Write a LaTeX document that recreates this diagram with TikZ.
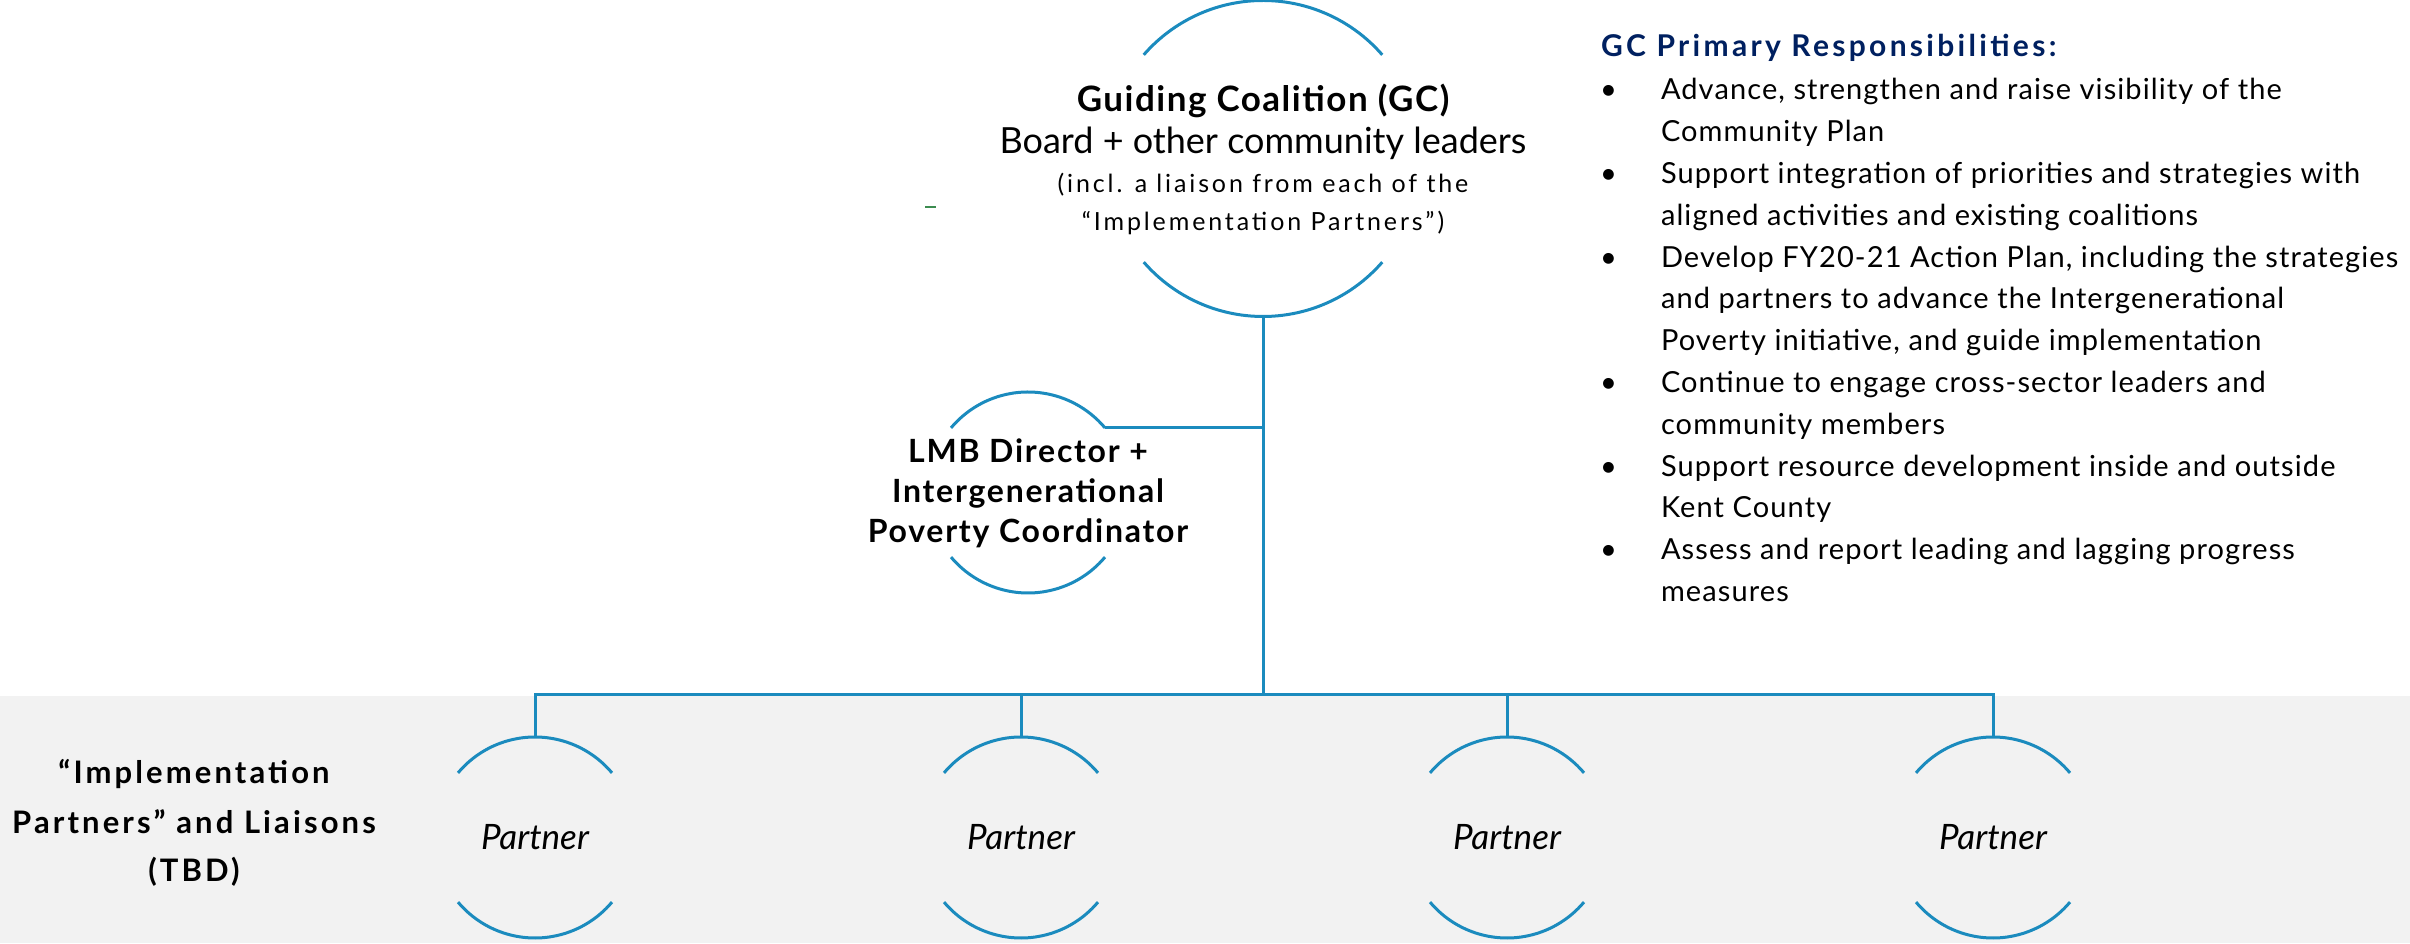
\documentclass[tikz,border=0pt]{standalone}
\usepackage{fontspec}
\setmainfont{Lato}

\definecolor{linkblue}{RGB}{27,139,190}
\definecolor{bandgray}{RGB}{242,242,242}
\definecolor{titlenavy}{RGB}{0,32,96}
\definecolor{markgreen}{RGB}{60,140,80}

% size, baseline skip
\newcommand{\setfs}[2]{\fontsize{#1pt}{#2pt}\selectfont}
% extra tracking, in percent of the font size
\newcommand{\track}[1]{\addfontfeatures{LetterSpace=#1}}

\begin{document}
\begin{tikzpicture}[x=1pt,y=1pt,
  link/.style={draw=linkblue, line width=3pt},
  ring/.style={circle, draw=none, inner sep=0pt, outer sep=0pt, minimum size=#1},
  txt/.style={inner sep=0pt, outer sep=0pt, anchor=base},
  txtw/.style={inner sep=0pt, outer sep=0pt, anchor=base west},
  gcbold/.style={font=\setfs{35}{40}\bfseries\track{4.3}},
  gcreg/.style={font=\setfs{36}{42}},
  gcsmall/.style={font=\setfs{25}{32}\track{11.5}},
  headbold/.style={font=\setfs{32}{40}\bfseries\track{5.5}},
  rowbold/.style={font=\setfs{31}{40}\bfseries\track{10}},
  listfont/.style={font=\setfs{29}{34}\track{3.8}},
  partnerfont/.style={font=\setfs{35}{40}\itshape}
]
\useasboundingbox (0,0) rectangle (2410,943);

% shaded band behind the partner row
\fill[bandgray] (0,0) rectangle (2410,247);

% circle placeholders (only the top and bottom arcs are drawn)
\node[ring=316pt] (gc) at (1263,784.5) {};
\node[ring=201pt] (lmb) at (1028,450.5) {};
\foreach \x [count=\i] in {535,1021,1507,1993}
  \node[ring=201pt, partnerfont] (p\i) at (\x,105.5) {Partner};

\draw[link] (gc.41) arc[start angle=41, end angle=139, radius=158pt];
\draw[link] (gc.221) arc[start angle=221, end angle=319, radius=158pt];
\foreach \n in {lmb,p1,p2,p3,p4} {
  \draw[link] (\n.40) arc[start angle=40, end angle=140, radius=100.5pt];
  \draw[link] (\n.220) arc[start angle=220, end angle=320, radius=100.5pt];
}

% connectors
\coordinate (hub) at (1263,248);
\draw[link] (gc.south) -- (hub);
\draw[link] (lmb.40) -- (lmb.40 -| gc.south);
\foreach \i in {1,...,4}
  \draw[link] (hub) -| (p\i.north);

% small green mark
\draw[markgreen, line width=2.5pt] (925,736) -- (936,736);

% Guiding Coalition text
\node[txt, gcbold] (gcA) at (1263,831) {Guiding Coalition (GC)};
\node[txt, gcreg] (gcB) at (1263,789) {Board + other community leaders};
\node[txt, gcsmall] (gcC) at (1263,750) {(incl. a liaison from each of the};
\node[txt, gcsmall] (gcD) at (1263,712) {“Implementation Partners”)};

% LMB text
\node[txt, headbold] (lmbA) at (1028,480) {LMB Director +};
\node[txt, headbold] (lmbB) at (1028,440) {Intergenerational};
\node[txt, headbold] (lmbC) at (1028,400) {Poverty Coordinator};

% row label
\node[txt, rowbold] (rowA) at (194,160) {“Implementation};
\node[txt, rowbold] (rowB) at (194,110) {Partners” and Liaisons};
\node[txt, rowbold] (rowC) at (194,62) {(TBD)};

% responsibilities list
\node[txtw, font=\setfs{30}{34}\bfseries\track{11}, text=titlenavy] (title) at (1601,886) {GC Primary Responsibilities:};
\foreach \t [count=\k from 0] in {
  {Advance, strengthen and raise visibility of the},
  {Community Plan},
  {Support integration of priorities and strategies with},
  {aligned activities and existing coalitions},
  {Develop FY20-21 Action Plan, including the strategies},
  {and partners to advance the Intergenerational},
  {Poverty initiative, and guide implementation},
  {Continue to engage cross-sector leaders and},
  {community members},
  {Support resource development inside and outside},
  {Kent County},
  {Assess and report leading and lagging progress},
  {measures}}
  \node[txtw, listfont] (line\k) at (1661,{843-41.8*\k}) {\t};
\foreach \k in {0,2,4,7,9,11}
  \node[txtw, font=\setfs{29}{34}] (dot\k) at (1600,{843-41.8*\k}) {•};
\end{tikzpicture}
\end{document}
